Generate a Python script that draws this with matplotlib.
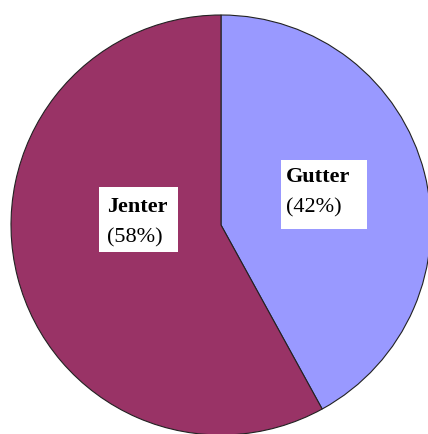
import matplotlib.pyplot as plt
from matplotlib.patches import Rectangle

labels = ["Gutter", "Jenter"]
shares = [42, 58]
colors = ["#9999FF", "#993366"]

W, H = 428, 435
fig = plt.figure(figsize=(W / 100, H / 100), dpi=100)
ax = fig.add_axes([0, 0, 1, 1])

ax.pie(shares, colors=colors, startangle=90, counterclock=False,
       center=(221, H - 226), radius=210, frame=False,
       wedgeprops=dict(edgecolor="#222222", linewidth=0.8))
ax.set_xlim(0, W)
ax.set_ylim(0, H)
ax.set_aspect("equal")
ax.axis("off")

# label boxes in pixel coords from top: x0, y0, x1, y1, text left, first baseline
boxes = {"Jenter": (99, 188, 178, 253, 107, 212),
         "Gutter": (281, 161, 367, 230, 286, 182)}
for name, pct in zip(labels, shares):
    x0, y0, x1, y1, tx, ty = boxes[name]
    ax.add_patch(Rectangle((x0, H - y1), x1 - x0, y1 - y0, facecolor="white",
                           edgecolor="none", zorder=3))
    ax.text(tx, H - ty, name, fontsize=16, fontweight="bold",
            family="Liberation Serif", va="baseline", ha="left", zorder=4)
    ax.text(tx, H - ty - 30, f"({pct}%)", fontsize=16,
            family="Liberation Serif", va="baseline", ha="left", zorder=4)

fig.savefig("out.png", dpi=100)
